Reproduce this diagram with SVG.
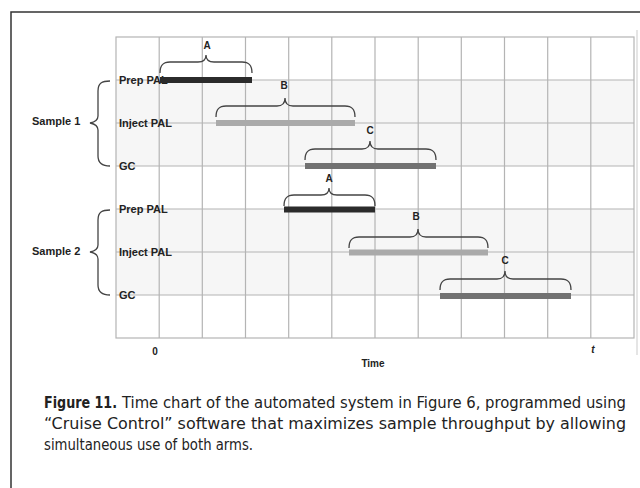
<svg xmlns="http://www.w3.org/2000/svg" width="640" height="488" viewBox="0 0 640 488">
<style>
.grid{stroke:#b4b4b4;stroke-width:1.2;fill:none}
.lbl{font-family:"Liberation Sans",Arial,sans-serif;font-weight:bold;font-size:11px;fill:#222}
.brace{fill:none;stroke:#444;stroke-width:1.3}
.bl{font-family:"Liberation Sans",Arial,sans-serif;font-weight:bold;font-size:10px;fill:#222;text-anchor:middle}
.bar{stroke-width:6;fill:none}
.cap{font-family:"DejaVu Sans Condensed","DejaVu Sans",sans-serif;font-size:16px;fill:#222}
</style>
<rect width="640" height="488" fill="#fff"/>
<rect x="11" y="12" width="700" height="600" fill="none" stroke="#333" stroke-width="1.5"/>
<line x1="637" y1="30" x2="637" y2="355" stroke="#ddd" stroke-width="1.5"/>
<g id="chart-bg">
<rect x="116" y="80" width="518" height="86" fill="#f6f6f6"/>
<rect x="116" y="209" width="518" height="86" fill="#f6f6f6"/>
</g>
<g id="grid" class="grid">
<rect x="116" y="37" width="518" height="301"/>
<path d="M159.2 37V338M202.3 37V338M245.5 37V338M288.7 37V338M331.8 37V338M375 37V338M418.2 37V338M461.3 37V338M504.5 37V338M547.7 37V338M590.8 37V338"/>
<path d="M116 80H634M116 123H634M116 166H634M116 209H634M116 252H634M116 295H634"/>
</g>
<g id="labels">
<text class="lbl" x="119" y="84">Prep PAL</text>
<text class="lbl" x="119" y="127">Inject PAL</text>
<text class="lbl" x="119" y="170">GC</text>
<text class="lbl" x="119" y="213">Prep PAL</text>
<text class="lbl" x="119" y="256">Inject PAL</text>
<text class="lbl" x="119" y="299">GC</text>
</g>
<g id="sample1">
<path class="brace" d="M110 81C102 81 98 83 98 91V116C98 120 95 122 90 123C95 124 98 126 98 130V156C98 163 102 166 110 166"/>
<text class="lbl" x="32" y="125">Sample 1</text>
</g>
<g id="sample2">
<path class="brace" d="M110 210C102 210 98 212 98 220V245C98 249 95 251 90 252C95 253 98 255 98 259V285C98 292 102 295 110 295"/>
<text class="lbl" x="32" y="255">Sample 2</text>
</g>
<g id="bars">
<line class="bar" x1="160" y1="80" x2="252" y2="80" stroke="#2b2b2b"/>
<line class="bar" x1="216" y1="123" x2="355" y2="123" stroke="#aaaaaa"/>
<line class="bar" x1="305" y1="166" x2="436" y2="166" stroke="#727272"/>
<line class="bar" x1="284" y1="209.5" x2="375" y2="209.5" stroke="#2b2b2b"/>
<line class="bar" x1="349" y1="252.5" x2="488" y2="252.5" stroke="#aaaaaa"/>
<line class="bar" x1="440" y1="296" x2="571" y2="296" stroke="#727272"/>
</g>
<g id="braces">
<path class="brace" d="M160 73C160 65 163 62 170 62L198 62C203 62 206 60 206 55C206 60 209 62 214 62L242 62C249 62 252 65 252 73"/>
<text class="bl" x="207" y="49">A</text>
<path class="brace" d="M216 117C216 109 219 106 226 106L277 106C282 106 285 104 285 98C285 104 288 106 293 106L345 106C352 106 355 109 355 117"/>
<text class="bl" x="284" y="89">B</text>
<path class="brace" d="M305 160C305 152 308 149 315 149L362 149C367 149 370 147 370 141C370 147 373 149 378 149L426 149C433 149 436 152 436 160"/>
<text class="bl" x="370" y="134">C</text>
<path class="brace" d="M284 206C284 198 287 195 294 195L321 195C326 195 329 193 329 188C329 193 332 195 337 195L365 195C372 195 375 198 375 206"/>
<text class="bl" x="329" y="182">A</text>
<path class="brace" d="M349 248C349 240 352 237 359 237L410 237C415 237 418 235 418 229C418 235 421 237 426 237L478 237C485 237 488 240 488 248"/>
<text class="bl" x="416" y="220">B</text>
<path class="brace" d="M440 290C440 282 443 279 450 279L497 279C502 279 505 277 505 271C505 277 508 279 513 279L561 279C568 279 571 282 571 290"/>
<text class="bl" x="505" y="264">C</text>
</g>
<g id="axis">
<text class="bl" x="155" y="355">0</text>
<text class="bl" x="373" y="367">Time</text>
<text class="bl" x="593" y="353" font-style="italic">t</text>
</g>
<g id="caption">
<text class="cap" x="44" y="408" font-weight="bold" textLength="73" lengthAdjust="spacingAndGlyphs">Figure 11.</text>
<text class="cap" x="122" y="408" textLength="504" lengthAdjust="spacingAndGlyphs">Time chart of the automated system in Figure 6, programmed using</text>
<text class="cap" x="44" y="429" textLength="582" lengthAdjust="spacingAndGlyphs">“Cruise Control” software that maximizes sample throughput by allowing</text>
<text class="cap" x="44" y="450" textLength="209" lengthAdjust="spacingAndGlyphs">simultaneous use of both arms.</text>
</g>
</svg>
